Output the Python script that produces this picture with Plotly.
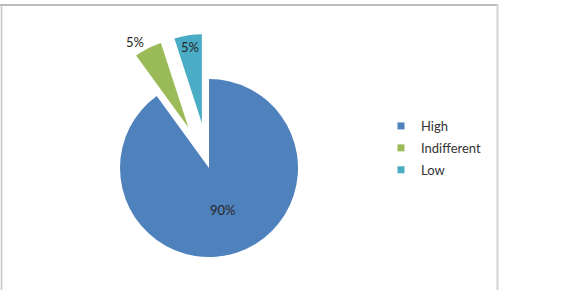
import plotly.graph_objects as go

labels = ["High", "Indifferent", "Low"]
values = [90, 5, 5]
colors = ["#4F81BD", "#9BBB59", "#4BACC6"]
pulls = [0, 0.51, 0.51]
text_positions = ["inside", "outside", "inside"]

W, H = 563, 310
font_family = "Lato, 'Open Sans', sans-serif"
text_color = "#262626"

# pie box geometry (pixels)
cx, cy, r = 209, 168, 89
box = 2 * r * (1 + max(pulls))

fig = go.Figure()
fig.add_trace(go.Pie(
    labels=labels,
    values=values,
    sort=False,
    direction="clockwise",
    rotation=0,
    pull=pulls,
    marker=dict(colors=colors, line=dict(width=0)),
    textinfo="percent",
    textposition=text_positions,
    insidetextorientation="horizontal",
    textfont=dict(family=font_family, size=13, color=text_color),
    showlegend=False,
    hoverinfo="label+percent",
    domain=dict(
        x=[(cx - box / 2) / W, (cx + box / 2) / W],
        y=[1 - (cy + box / 2) / H, 1 - (cy - box / 2) / H],
    ),
))

# legend entries
for lab, col in zip(labels, colors):
    fig.add_trace(go.Scatter(
        x=[None], y=[None], mode="markers", name=lab,
        legendgroup=lab,
        marker=dict(symbol="square", size=7, color=col),
    ))

frame_shapes = [
    dict(type="line", xref="paper", yref="paper", x0=0.0, x1=498 / W,
         y0=1 - 5 / H, y1=1 - 5 / H, line=dict(color="#A6A6A6", width=1.5)),
    dict(type="line", xref="paper", yref="paper", x0=1.5 / W, x1=1.5 / W,
         y0=0, y1=1 - 5 / H, line=dict(color="#C4C4C4", width=1.5)),
    dict(type="line", xref="paper", yref="paper", x0=497.5 / W, x1=497.5 / W,
         y0=0, y1=1 - 5 / H, line=dict(color="#D4D4D4", width=2)),
]

fig.update_layout(
    width=W, height=H,
    margin=dict(l=0, r=0, t=0, b=0, autoexpand=False),
    paper_bgcolor="white", plot_bgcolor="white",
    xaxis=dict(visible=False), yaxis=dict(visible=False),
    showlegend=True,
    uniformtext=dict(minsize=13, mode="show"),
    legend=dict(
        x=381 / W, y=1 - 148 / H, xanchor="left", yanchor="middle",
        traceorder="grouped", tracegroupgap=2,
        font=dict(family=font_family, size=13, color="#333333"),
        bgcolor="rgba(0,0,0,0)",
    ),
    shapes=frame_shapes,
)

fig.write_html(
    "out.html",
    post_script="document.documentElement.style.overflow='hidden';document.body.style.overflow='hidden';document.body.style.margin='0';",
)
